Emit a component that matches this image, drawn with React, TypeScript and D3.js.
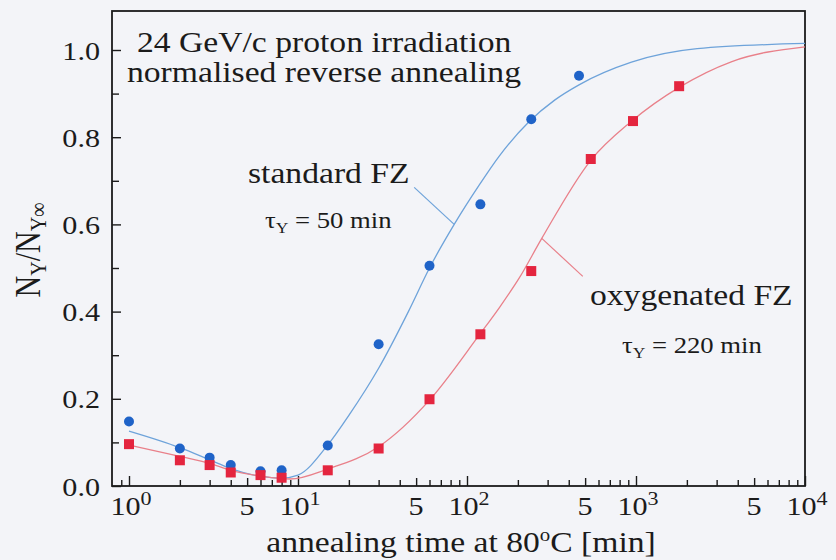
import { useRef, useEffect } from "react";
import * as d3 from "d3";

const WIDTH = 836;
const HEIGHT = 560;
const FONT = "'Liberation Serif', 'Times New Roman', serif";
const STRETCH = 1.16; // the scanned figure is a bit wider than tall

// measured points, standard FZ (circles)
const standardTime = [1, 2, 3, 4, 6, 8, 15, 30, 60, 120, 240, 460];
const standardValue = [0.148, 0.086, 0.065, 0.048, 0.034, 0.036, 0.093, 0.325, 0.505, 0.646, 0.841, 0.941];

// measured points, oxygenated FZ (squares)
const oxygenTime = [1, 2, 3, 4, 6, 8, 15, 30, 60, 120, 240, 540, 960, 1800];
const oxygenValue = [0.096, 0.059, 0.048, 0.031, 0.025, 0.019, 0.036, 0.086, 0.199, 0.348, 0.493, 0.75, 0.837, 0.917];

// fit curves
const standardFitTime = [1, 2, 3, 4, 6, 8, 10, 15, 20, 30, 45, 60, 84, 118, 154, 232, 330, 460, 940, 2300, 10000];
const standardFitValue = [0.126, 0.088, 0.06, 0.04, 0.022, 0.018, 0.025, 0.094, 0.162, 0.27, 0.4, 0.5, 0.6, 0.69, 0.755, 0.835, 0.885, 0.92, 0.972, 1.003, 1.015];

const oxygenFitTime = [1, 2, 3, 4, 6, 9, 15, 30, 60, 118, 154, 203, 277, 540, 930, 1830, 3660, 10000];
const oxygenFitValue = [0.094, 0.068, 0.052, 0.036, 0.023, 0.016, 0.039, 0.09, 0.197, 0.346, 0.407, 0.476, 0.568, 0.747, 0.835, 0.916, 0.973, 1.007];

// where the label pointers touch the curves
const standardPointer = { t: 84, v: 0.6 };
const oxygenPointer = { t: 277, v: 0.568 };

const yMajorTicks = [0, 0.2, 0.4, 0.6, 0.8, 1.0];
const yMinorTicks = [0.1, 0.3, 0.5, 0.7, 0.9];
const xDecadeTicks = [1, 10, 100, 1000, 10000];
const xDecadeExp = ["0", "1", "2", "3", "4"];
const xFiveTicks = [5, 50, 500, 5000];
const xMinorTicks = [0.9, ...[1, 10, 100, 1000].flatMap((d) => [2, 3, 4, 6, 7, 8, 9].map((m) => m * d))];

const BLUE_DOT = "#1f63c8";
const BLUE_LINE = "#6ea3da";
const RED_DOT = "#e4253f";
const RED_LINE = "#e9808a";
const INK = "#1b1b1b";

export default function App() {
  const svgRef = useRef<SVGSVGElement>(null);

  useEffect(() => {
    if (!svgRef.current) return;
    const svg = d3.select(svgRef.current);
    svg.selectAll("*").remove();

    const left = 112;
    const right = 805;
    const top = 11;
    const bottom = 486;

    const x = d3.scaleLog().domain([1, 10000]).range([129, 805]);
    const y = d3.scaleLinear().domain([0, 1]).range([bottom, 50]);

    svg.append("rect").attr("width", WIDTH).attr("height", HEIGHT).attr("fill", "#f3f4f8");

    const text = (px: number, py: number, size: number, anchor = "start") =>
      svg
        .append("text")
        .attr("transform", `translate(${px},${py}) scale(${STRETCH},1)`)
        .attr("font-family", FONT)
        .attr("font-size", size)
        .attr("fill", INK)
        .attr("text-anchor", anchor);

    // ticks, pointing into the plot
    const tickAxis = (axis: d3.Axis<any>, g: d3.Selection<SVGGElement, unknown, null, undefined>) => {
      g.call(axis);
      g.select(".domain").remove();
      g.selectAll("text").remove();
      g.selectAll("line").attr("stroke", INK).attr("stroke-width", 1.4);
    };
    const xAxisG = svg.append("g").attr("transform", `translate(0,${bottom})`);
    tickAxis(d3.axisBottom(x).tickValues(xDecadeTicks).tickSize(-10), xAxisG.append("g"));
    tickAxis(d3.axisBottom(x).tickValues(xFiveTicks).tickSize(-8), xAxisG.append("g"));
    tickAxis(d3.axisBottom(x).tickValues(xMinorTicks).tickSize(-6), xAxisG.append("g"));
    const yAxisG = svg.append("g").attr("transform", `translate(${left},0)`);
    tickAxis(d3.axisLeft(y).tickValues(yMajorTicks).tickSize(-9), yAxisG.append("g"));
    tickAxis(d3.axisLeft(y).tickValues(yMinorTicks).tickSize(-7), yAxisG.append("g"));

    // frame
    svg
      .append("rect")
      .attr("x", left)
      .attr("y", top)
      .attr("width", right - left)
      .attr("height", bottom - top)
      .attr("fill", "none")
      .attr("stroke", INK)
      .attr("stroke-width", 1.8);

    // y tick labels
    yMajorTicks.forEach((v) => {
      text(100, y(v) + 9.5, 26, "end").text(d3.format(".1f")(v));
    });

    // x tick labels
    xDecadeTicks.forEach((t, i) => {
      const el = text(x(t) + 2, bottom + 29, 26, "middle");
      el.append("tspan").text("10");
      el.append("tspan").attr("font-size", 19).attr("dy", -10).text(xDecadeExp[i]);
    });
    xFiveTicks.forEach((t) => {
      text(x(t), bottom + 29, 26, "middle").text("5");
    });

    // axis titles
    const xt = text(461, 552, 29, "middle");
    xt.append("tspan").text("annealing time at 80");
    xt.append("tspan").attr("font-size", 18).attr("dy", -11).text("o");
    xt.append("tspan").attr("dy", 11).text("C [min]");

    const yt = svg
      .append("text")
      .attr("transform", `translate(40,250) scale(${STRETCH},1) rotate(-90)`)
      .attr("font-family", FONT)
      .attr("font-size", 30)
      .attr("fill", INK)
      .attr("text-anchor", "middle");
    yt.append("tspan").text("N");
    yt.append("tspan").attr("font-size", 20).attr("dy", 5).text("Y");
    yt.append("tspan").attr("dy", -5).text("/N");
    yt.append("tspan").attr("font-size", 20).attr("dy", 5).text("Y\u221E");

    // fit curves
    const line = d3
      .line<[number, number]>()
      .x((d) => x(d[0]))
      .y((d) => y(d[1]))
      .curve(d3.curveMonotoneX);

    svg
      .append("path")
      .datum(standardFitTime.map((t, i) => [t, standardFitValue[i]] as [number, number]))
      .attr("d", line)
      .attr("fill", "none")
      .attr("stroke", BLUE_LINE)
      .attr("stroke-width", 1.3);

    svg
      .append("path")
      .datum(oxygenFitTime.map((t, i) => [t, oxygenFitValue[i]] as [number, number]))
      .attr("d", line)
      .attr("fill", "none")
      .attr("stroke", RED_LINE)
      .attr("stroke-width", 1.3);

    // label pointers
    const sx = x(standardPointer.t);
    const sy = y(standardPointer.v);
    svg
      .append("line")
      .attr("x1", sx)
      .attr("y1", sy)
      .attr("x2", sx - 40)
      .attr("y2", sy - 37)
      .attr("stroke", BLUE_LINE)
      .attr("stroke-width", 1.2);
    const ox = x(oxygenPointer.t);
    const oy = y(oxygenPointer.v);
    svg
      .append("line")
      .attr("x1", ox)
      .attr("y1", oy)
      .attr("x2", ox + 41)
      .attr("y2", oy + 38)
      .attr("stroke", RED_LINE)
      .attr("stroke-width", 1.2);

    // measured points
    svg
      .append("g")
      .selectAll("circle")
      .data(standardTime.map((t, i) => [t, standardValue[i]]))
      .join("circle")
      .attr("cx", (d) => x(d[0]))
      .attr("cy", (d) => y(d[1]))
      .attr("r", 5)
      .attr("fill", BLUE_DOT);

    const sq = 10;
    svg
      .append("g")
      .selectAll("rect")
      .data(oxygenTime.map((t, i) => [t, oxygenValue[i]]))
      .join("rect")
      .attr("x", (d) => x(d[0]) - sq / 2)
      .attr("y", (d) => y(d[1]) - sq / 2)
      .attr("width", sq)
      .attr("height", sq)
      .attr("fill", RED_DOT);

    // annotations
    text(137, 52, 29).text("24 GeV/c proton irradiation");
    text(127, 82, 29).text("normalised reverse annealing");
    text(248, 183, 29).text("standard FZ");
    text(590, 305, 29).text("oxygenated FZ");

    const tau = (px: number, py: number, val: string) => {
      const el = text(px, py, 23);
      el.append("tspan").text("\u03C4");
      el.append("tspan").attr("font-size", 15).attr("dy", 5).text("Y");
      el.append("tspan").attr("dy", -5).text(` = ${val} min`);
    };
    tau(265, 228, "50");
    tau(622, 353, "220");
  }, []);

  return (
    <svg
      ref={svgRef}
      width={WIDTH}
      height={HEIGHT}
      style={{ position: "absolute", left: 0, top: 0, display: "block" }}
    />
  );
}
